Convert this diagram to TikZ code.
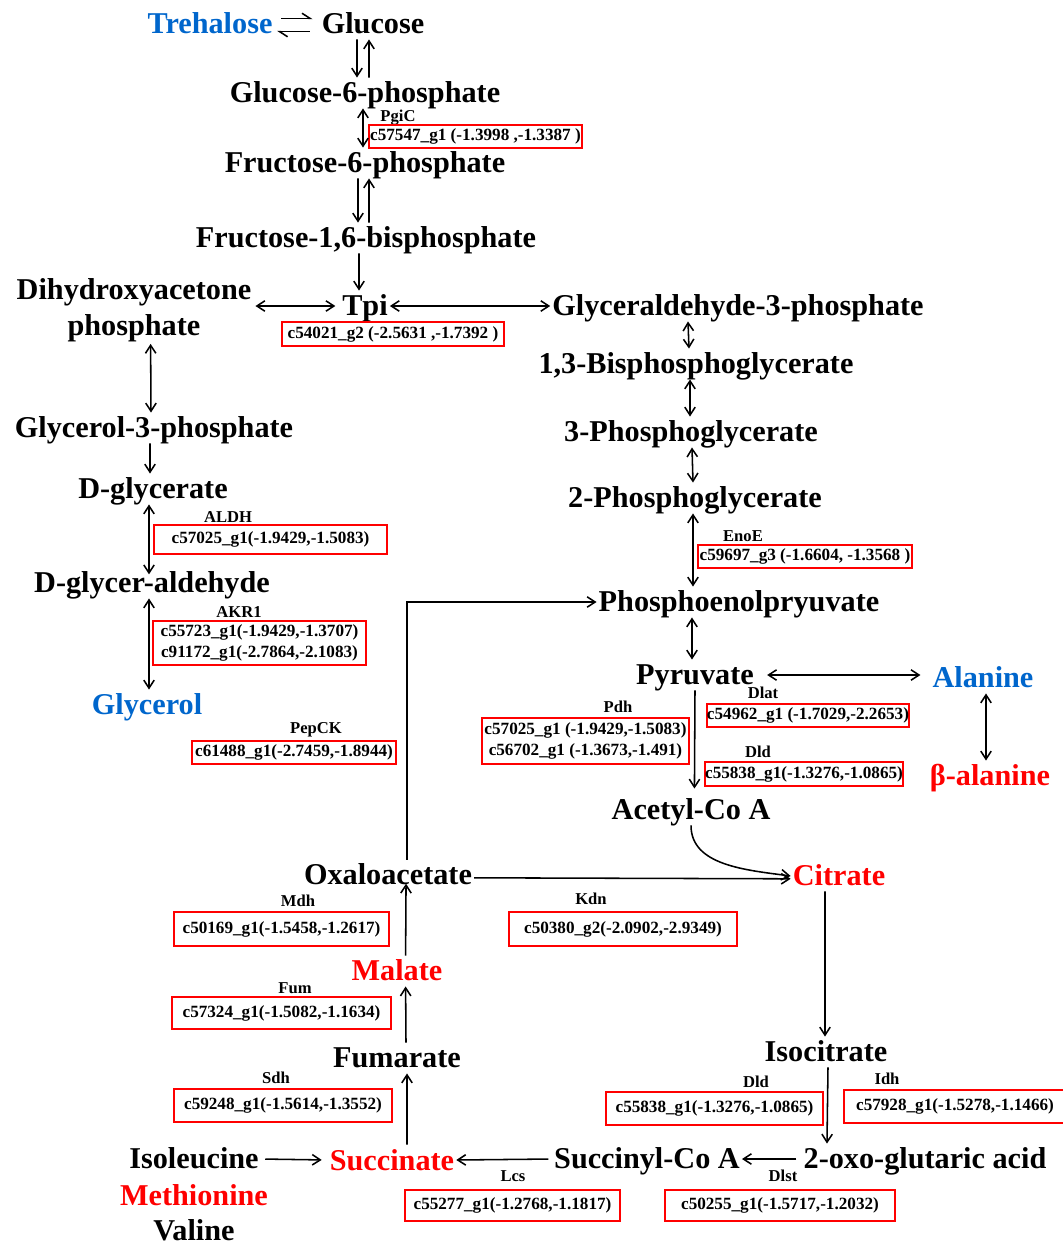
\documentclass[tikz,border=0pt]{standalone}
\usepackage{fontspec}
\setmainfont{Liberation Serif}
\usetikzlibrary{arrows.meta}

\definecolor{pathblue}{RGB}{0,102,204}
\definecolor{pathred}{RGB}{255,0,0}

\tikzset{
  metab/.style={font=\fontsize{21.5}{25.6}\selectfont\bfseries, inner sep=1pt, text height=16.55pt, text depth=2.35pt},
  metabtwo/.style={font=\fontsize{21.5}{25.6}\selectfont\bfseries, inner sep=1pt, align=center},
  enz/.style={font=\fontsize{11.8}{14}\selectfont\bfseries, inner sep=0pt, text height=8.3pt, text depth=0pt},
  gene/.style 2 args={draw=pathred, line width=0.8pt, font=\fontsize{12.2}{15}\selectfont\bfseries, inner sep=0pt, align=center, minimum width=#1, minimum height=#2},
  hp/.style={-{Straight Barb[left,length=2mm,width=2.6mm]}},
}

\begin{document}
\begin{tikzpicture}[x=0.025cm, y=-0.025cm, line width=1.1pt, >={Straight Barb[length=2mm,width=2.6mm]}]
\useasboundingbox (0,0) rectangle (1063,1245);

\node[metab, text=pathblue] (treh) at (210,24) {Trehalose};
\node[metab] (glc) at (373,24) {Glucose};
\node[metab] (g6p) at (365,93) {Glucose-6-phosphate};
\node[metab] (f6p) at (365,163) {Fructose-6-phosphate};
\node[metab] (fbp) at (366,238) {Fructose-1,6-bisphosphate};
\node[metabtwo] (dhap) at (134,310) {Dihydroxyacetone\\phosphate};
\node[metab] (tpi) at (365,306) {Tpi};
\node[metab] (gap) at (738,306) {Glyceraldehyde-3-phosphate};
\node[metab] (bpg) at (696,364) {1,3-Bisphosphoglycerate};
\node[metab] (pg3) at (691,432) {3-Phosphoglycerate};
\node[metab] (pg2) at (695,498) {2-Phosphoglycerate};
\node[metab] (pep) at (739,602) {Phosphoenolpryuvate};
\node[metab] (pyr) at (695,675) {Pyruvate};
\node[metab, text=pathblue] (ala) at (983,678) {Alanine};
\node[metab, text=pathred] (bala) at (990,776) {β-alanine};
\node[metab] (accoa) at (691,810) {Acetyl-Co A};

\node[metab] (gro3p) at (154,428) {Glycerol-3-phosphate};
\node[metab] (dgly) at (153,489) {D-glycerate};
\node[metab] (dgal) at (152,583) {D-glycer-aldehyde};
\node[metab, text=pathblue] (glyc) at (147,705) {Glycerol};

\node[metab] (oaa) at (388,875) {Oxaloacetate};
\node[metab, text=pathred] (cit) at (839,876) {Citrate};
\node[metab, text=pathred] (mal) at (397,971) {Malate};
\node[metab] (fum) at (397,1058) {Fumarate};
\node[metab] (icit) at (826,1052) {Isocitrate};
\node[metab, text=pathred] (succ) at (392,1160) {Succinate};
\node[metab] (succoa) at (647,1159) {Succinyl-Co A};
\node[metab] (oxo) at (925,1159) {2-oxo-glutaric acid};
\node[metab] (ile) at (194,1159) {Isoleucine};
\node[metab, text=pathred] (meth) at (194,1196) {Methionine};
\node[metab] (val) at (194,1230) {Valine};

\node[enz] (pgic) at (398,116) {PgiC};
\node[enz] (aldh) at (228,517) {ALDH};
\node[enz] (akr) at (239,612) {AKR1};
\node[enz] (pepck) at (316,728) {PepCK};
\node[enz] (enoe) at (743,536) {EnoE};
\node[enz] (pdh) at (618,707) {Pdh};
\node[enz] (dlat) at (763,693) {Dlat};
\node[enz] (dld) at (758,752) {Dld};
\node[enz] (mdh) at (298,901) {Mdh};
\node[enz] (kdn) at (591,899) {Kdn};
\node[enz] (fumh) at (295,988) {Fum};
\node[enz] (sdh) at (276,1078) {Sdh};
\node[enz] (dldb) at (756,1082) {Dld};
\node[enz] (idh) at (887,1079) {Idh};
\node[enz] (lcs) at (513,1176) {Lcs};
\node[enz] (dlst) at (783,1176) {Dlst};

\node[gene={5.325cm}{0.575cm}] (pgicgene) at (475.5,136.5) {c57547\_g1 (-1.3998 ,-1.3387 )};
\node[gene={5.55cm}{0.6cm}] (tpigene) at (393,334) {c54021\_g2 (-2.5631 ,-1.7392 )};
\node[gene={5.35cm}{0.575cm}] (enogene) at (805,556.5) {c59697\_g3 (-1.6604, -1.3568 )};
\node[gene={5.825cm}{0.725cm}] (aldhgene) at (270.5,539.5) {c57025\_g1(-1.9429,-1.5083)};
\node[gene={5.325cm}{1.1cm}] (akrgene) at (259.5,643) {c55723\_g1(-1.9429,-1.3707)\\c91172\_g1(-2.7864,-2.1083)};
\node[gene={5.1cm}{0.575cm}] (pepckgene) at (294,752.5) {c61488\_g1(-2.7459,-1.8944)};
\node[gene={5.175cm}{1.15cm}] (pdhgene) at (585.5,741) {c57025\_g1 (-1.9429,-1.5083)\\c56702\_g1 (-1.3673,-1.491)};
\node[gene={5.05cm}{0.575cm}] (dlatgene) at (808,715.5) {c54962\_g1 (-1.7029,-2.2653)};
\node[gene={4.95cm}{0.6cm}] (dldgene) at (804,774) {c55838\_g1(-1.3276,-1.0865)};
\node[gene={5.375cm}{0.85cm}] (mdhgene) at (281.5,929) {c50169\_g1(-1.5458,-1.2617)};
\node[gene={5.7cm}{0.85cm}] (kdngene) at (623,929) {c50380\_g2(-2.0902,-2.9349)};
\node[gene={5.475cm}{0.8cm}] (fumgene) at (281.5,1013) {c57324\_g1(-1.5082,-1.1634)};
\node[gene={5.45cm}{0.825cm}] (sdhgene) at (283,1105.5) {c59248\_g1(-1.5614,-1.3552)};
\node[gene={5.425cm}{0.825cm}] (dldbgene) at (714.5,1108.5) {c55838\_g1(-1.3276,-1.0865)};
\node[gene={5.55cm}{0.825cm}] (idhgene) at (955,1106.5) {c57928\_g1(-1.5278,-1.1466)};
\node[gene={5.375cm}{0.775cm}] (lcsgene) at (512.5,1205.5) {c55277\_g1(-1.2768,-1.1817)};
\node[gene={5.75cm}{0.775cm}] (dlstgene) at (780,1205.5) {c50255\_g1(-1.5717,-1.2032)};

\draw[hp] ([xshift=0.16cm,yshift=0.14cm]treh.east) -- ([xshift=-0.175cm,yshift=0.14cm]glc.west);
\draw[hp] ([xshift=-0.25cm,yshift=-0.19cm]glc.west) -- ([xshift=0.06cm,yshift=-0.19cm]treh.east);
\draw[->] ([xshift=-0.4cm]glc.south) -- ([xshift=-0.2cm]g6p.north);
\draw[->] ([xshift=0.1cm]g6p.north) -- ([xshift=-0.1cm]glc.south);
\draw[<->] ([xshift=-0.05cm]g6p.south) -- ([xshift=-0.05cm]f6p.north);
\draw[->] ([xshift=-0.175cm]f6p.south) -- ([xshift=-0.2cm]fbp.north);
\draw[->] ([xshift=0.075cm]fbp.north) -- ([xshift=0.1cm]f6p.south);
\draw[->] ([xshift=-0.175cm]fbp.south) -- ([xshift=-0.15cm]tpi.north);
\draw[<->, shorten <=0.05cm, shorten >=0.12cm] (dhap.east |- tpi.west) -- (tpi.west);
\draw[<->] (tpi.east) -- (gap.west);

\draw[<->] ([xshift=0.415cm]dhap.south) -- ([xshift=-0.075cm]gro3p.north);
\draw[->] ([xshift=-0.1cm]gro3p.south) -- ([xshift=-0.075cm]dgly.north);
\draw[<->, shorten >=-0.17cm] ([xshift=-0.1cm]dgly.south) -- ([xshift=-0.075cm]dgal.north);
\draw[<->] ([xshift=-0.075cm]dgal.south) -- ([xshift=0.05cm]glyc.north);

\draw[<->] ([xshift=-1.25cm]gap.south) -- ([xshift=-0.175cm]bpg.north);
\draw[<->] ([xshift=-0.15cm]bpg.south) -- ([xshift=-0.025cm]pg3.north);
\draw[<->] ([xshift=0.025cm]pg3.south) -- ([xshift=-0.05cm]pg2.north);
\draw[<->] ([xshift=-0.05cm]pg2.south) -- ([xshift=-1.15cm]pep.north);
\draw[<->] ([xshift=-1.175cm]pep.south) -- ([xshift=-0.075cm]pyr.north);
\draw[<->, shorten <=0.28cm, shorten >=0.25cm] (pyr.east) -- (pyr.east -| ala.west);
\draw[<->] ([xshift=0.075cm]ala.south) -- ([xshift=-0.1cm]bala.north);
\draw[->, shorten >=0.15cm] (pyr.south) -- ([xshift=0.085cm]accoa.north);
\draw[->] (accoa.south) .. controls +(0,40) and +(-45,-6) .. (cit.west);

\draw[->] ([yshift=-0.07cm]oaa.east) -- ([yshift=-0.07cm]cit.west);
\draw[->] ([xshift=0.475cm]oaa.north) |- (pep.west);
\draw[->, shorten >=-0.17cm] ([xshift=0.215cm]mal.north) -- ([xshift=0.45cm]oaa.south);
\draw[->] ([xshift=0.225cm]fum.north) -- ([xshift=0.215cm]mal.south);
\draw[->] ([xshift=0.375cm]succ.north) -- ([xshift=0.25cm]fum.south);
\draw[->, shorten <=0.11cm, shorten >=0.15cm] (ile.east) -- (succ.west);
\draw[->, shorten <=0.09cm] (succoa.west) -- (succ.east);
\draw[->, shorten <=0.13cm] (oxo.west) -- (succoa.east);
\draw[->] ([xshift=-0.35cm]cit.south) -- ([xshift=-0.025cm]icit.north);
\draw[->] ([xshift=0.05cm]icit.south) -- ([xshift=-2.45cm]oxo.north);
\end{tikzpicture}
\end{document}
